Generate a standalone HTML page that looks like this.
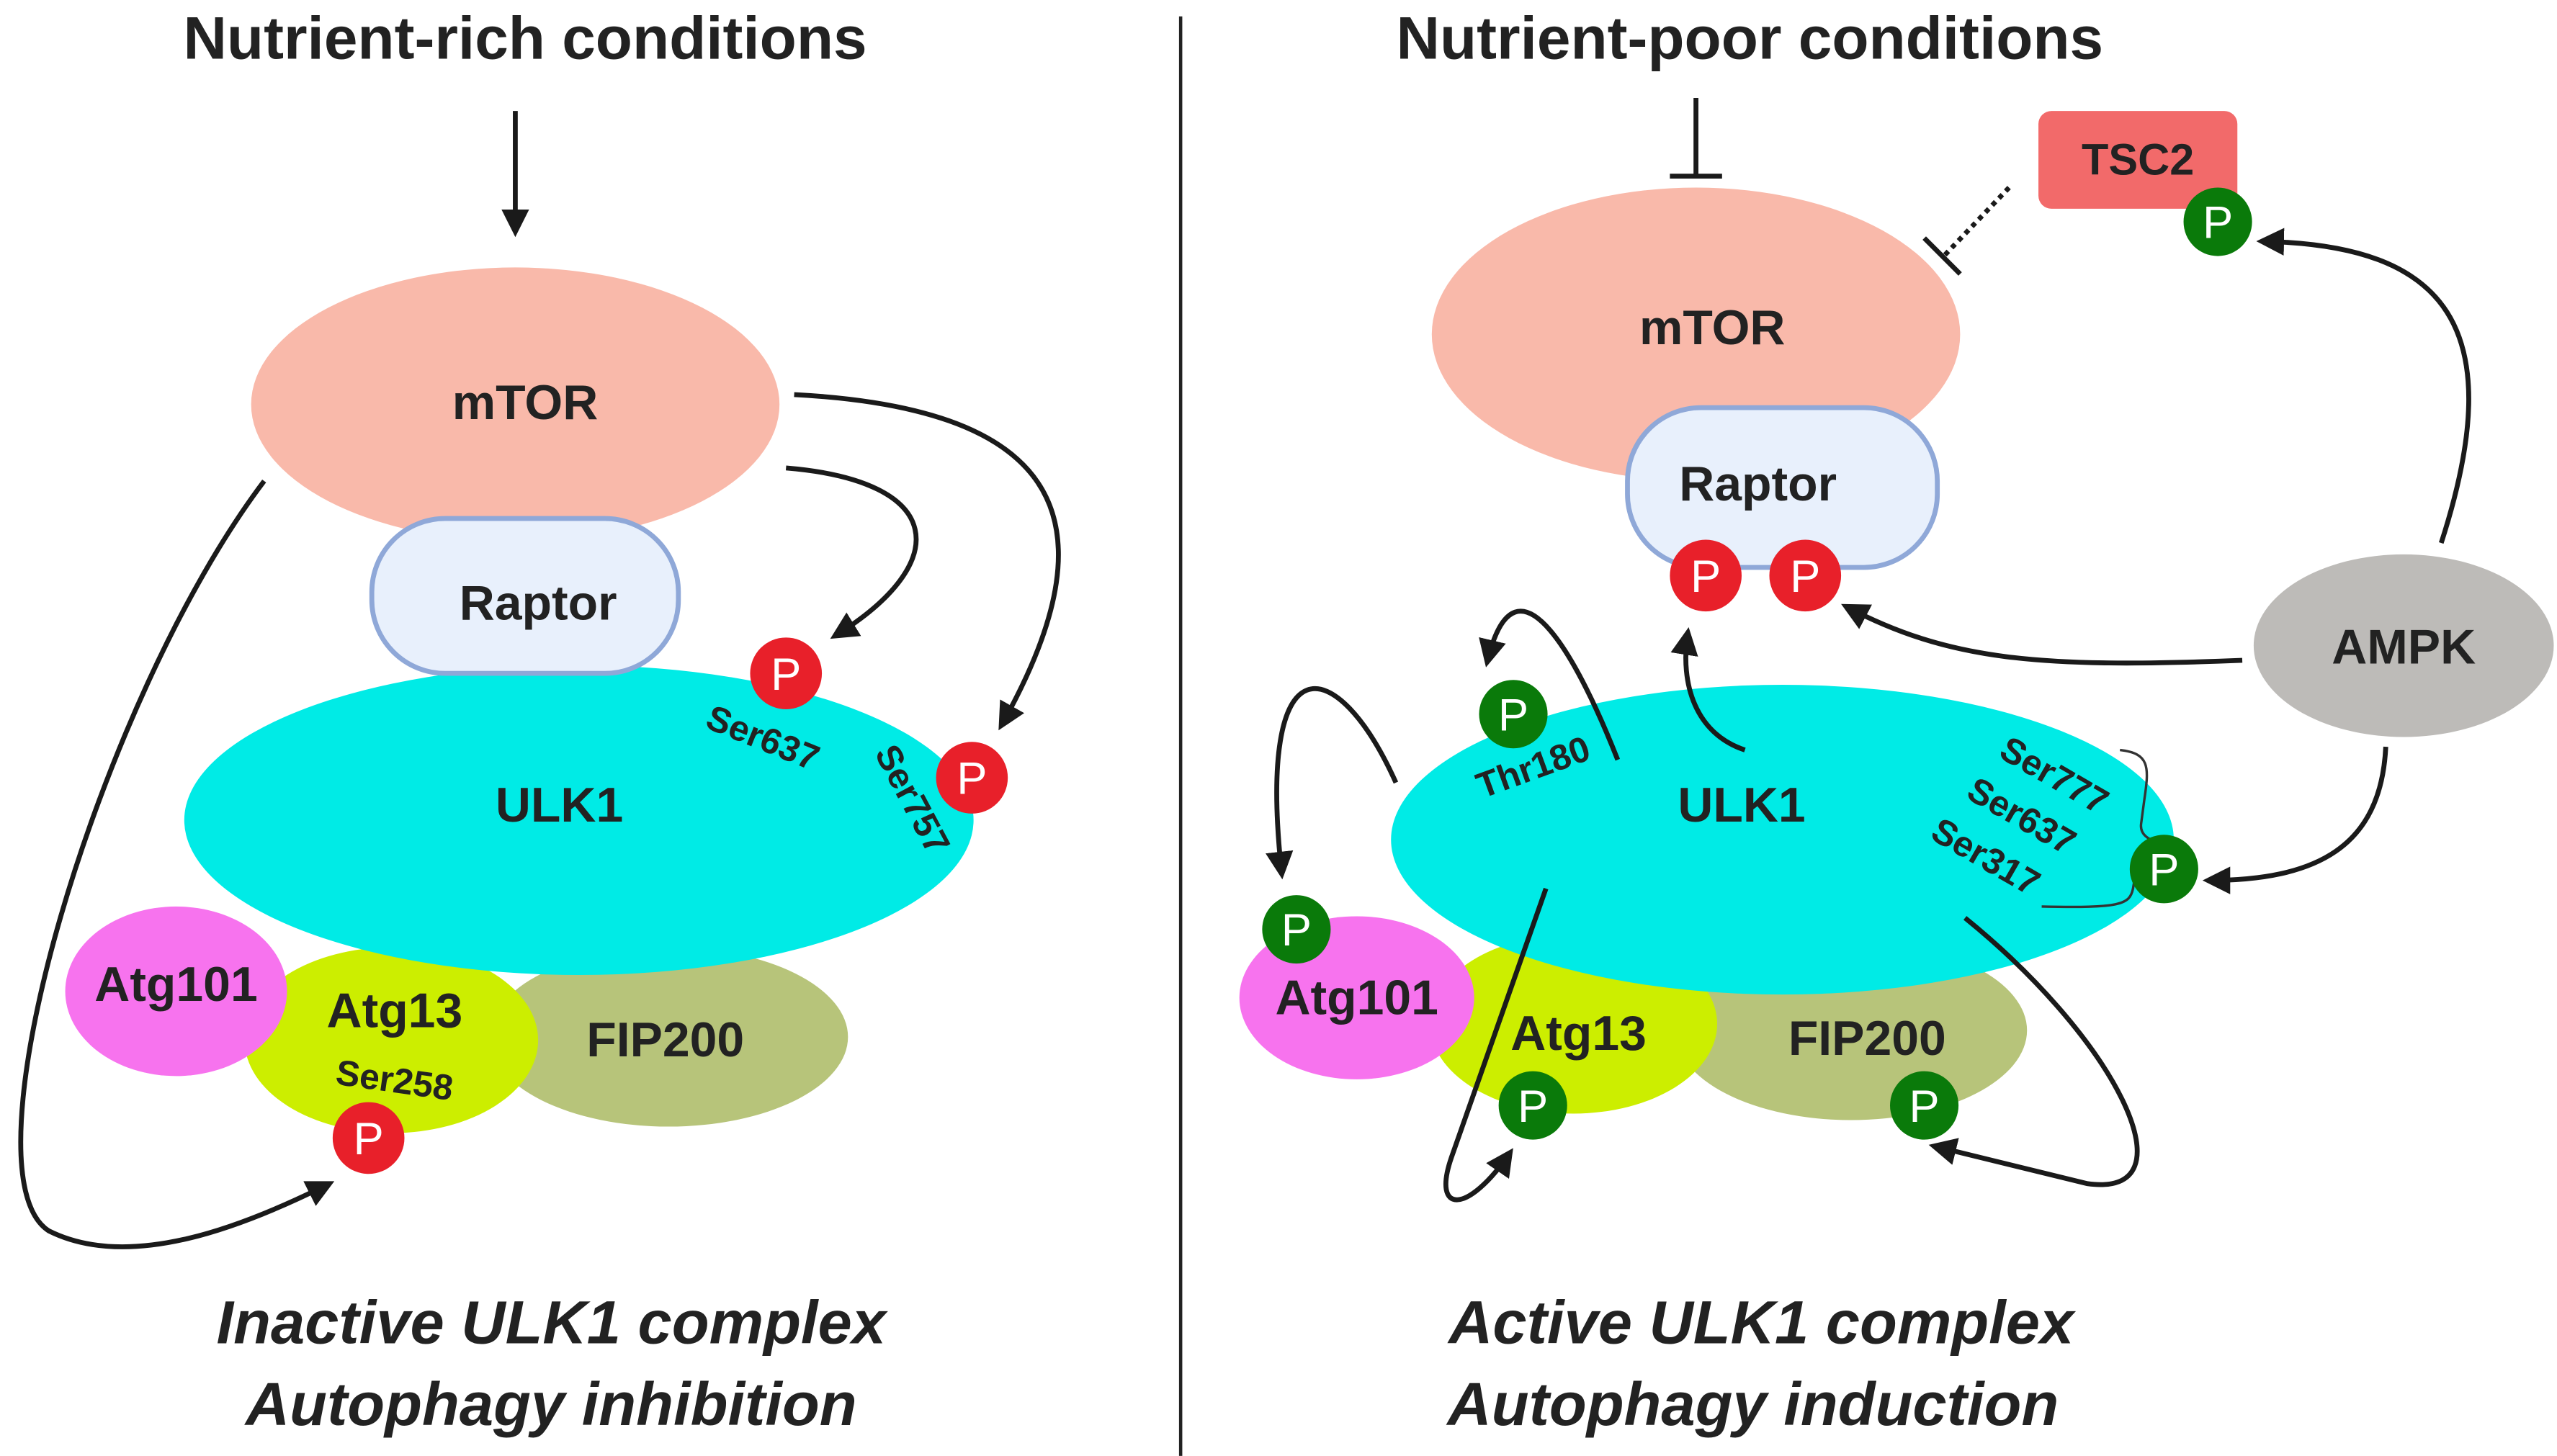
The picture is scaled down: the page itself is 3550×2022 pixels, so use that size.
<!DOCTYPE html>
<html><head><meta charset="utf-8"><style>
html,body{margin:0;padding:0;background:#fff;}
svg{display:block;}
text{font-family:"Liberation Sans",sans-serif;font-weight:bold;fill:#222;}
</style></head><body>
<svg width="3550" height="2022" viewBox="0 0 1568 893" xmlns="http://www.w3.org/2000/svg">
<defs>
<marker id="ah" viewBox="0 0 10 10" refX="8" refY="5" markerWidth="17" markerHeight="17" orient="auto" markerUnits="userSpaceOnUse">
<path d="M0,0 L10,5 L0,10 z" fill="#1a1a1a"/>
</marker>
</defs>
<rect width="1568" height="893" fill="#fff"/>

<!-- LEFT -->
<text x="322" y="36" font-size="37" text-anchor="middle">Nutrient-rich conditions</text>
<line x1="316" y1="68" x2="316" y2="142" stroke="#1a1a1a" stroke-width="3" marker-end="url(#ah)"/>

<ellipse cx="410" cy="636" rx="110" ry="55" fill="#b7c47a"/>
<ellipse cx="240" cy="638" rx="90" ry="57" fill="#ccee00"/>
<ellipse cx="108" cy="608" rx="68" ry="52" fill="#f773ee"/>
<ellipse cx="316" cy="248" rx="162" ry="84" fill="#f9b9aa"/>
<ellipse cx="355" cy="503" rx="242" ry="95" fill="#00ebe6"/>
<rect x="228" y="318" width="188" height="95" rx="45" fill="#e8f0fc" stroke="#8fa8d8" stroke-width="3"/>

<text x="322" y="257" font-size="30" text-anchor="middle">mTOR</text>
<text x="330" y="380" font-size="30" text-anchor="middle">Raptor</text>
<text x="343" y="504" font-size="30" text-anchor="middle">ULK1</text>
<text x="408" y="648" font-size="30" text-anchor="middle">FIP200</text>
<text x="242" y="630" font-size="30" text-anchor="middle">Atg13</text>
<text x="108" y="614" font-size="30" text-anchor="middle">Atg101</text>
<text x="242" y="670" font-size="22" text-anchor="middle" transform="rotate(8 242 662)">Ser258</text>
<text x="468" y="460" font-size="22" text-anchor="middle" transform="rotate(22 468 452)">Ser637</text>
<text x="560" y="498" font-size="22" text-anchor="middle" transform="rotate(62 560 490)">Ser757</text>

<path d="M482,287 C580,295 585,345 512,390" fill="none" stroke="#1a1a1a" stroke-width="3" marker-end="url(#ah)"/>
<path d="M487,242 C640,250 690,310 614,445" fill="none" stroke="#1a1a1a" stroke-width="3" marker-end="url(#ah)"/>
<path d="M162,295 C60,430 -25,720 30,755 C80,780 150,752 202,726" fill="none" stroke="#1a1a1a" stroke-width="3" marker-end="url(#ah)"/>

<g font-size="28">
<circle cx="482" cy="413" r="22" fill="#e8202a"/><text x="482" y="423" text-anchor="middle" style="fill:#fff;font-weight:normal">P</text>
<circle cx="596" cy="477" r="22" fill="#e8202a"/><text x="596" y="487" text-anchor="middle" style="fill:#fff;font-weight:normal">P</text>
<circle cx="226" cy="698" r="22" fill="#e8202a"/><text x="226" y="708" text-anchor="middle" style="fill:#fff;font-weight:normal">P</text>
</g>

<text x="338" y="824" font-size="37.5" font-style="italic" text-anchor="middle">Inactive ULK1 complex</text>
<text x="338" y="874" font-size="37.5" font-style="italic" text-anchor="middle">Autophagy inhibition</text>

<line x1="724" y1="10" x2="724" y2="893" stroke="#222" stroke-width="2"/>

<!-- RIGHT -->
<text x="1073" y="36" font-size="37" text-anchor="middle">Nutrient-poor conditions</text>
<line x1="1040" y1="60" x2="1040" y2="108" stroke="#1a1a1a" stroke-width="3"/>
<line x1="1024" y1="108" x2="1056" y2="108" stroke="#1a1a1a" stroke-width="3"/>

<ellipse cx="1135" cy="632" rx="108" ry="55" fill="#b7c47a"/>
<ellipse cx="965" cy="628" rx="88" ry="55" fill="#ccee00"/>
<ellipse cx="832" cy="612" rx="72" ry="50" fill="#f773ee"/>
<ellipse cx="1040" cy="205" rx="162" ry="90" fill="#f9b9aa"/>
<ellipse cx="1093" cy="515" rx="240" ry="95" fill="#00ebe6"/>
<rect x="998" y="250" width="190" height="98" rx="45" fill="#e8f0fc" stroke="#8fa8d8" stroke-width="3"/>
<rect x="1250" y="68" width="122" height="60" rx="8" fill="#f26a6a"/>
<ellipse cx="1474" cy="396" rx="92" ry="56" fill="#bdbbb8"/>

<text x="1050" y="211" font-size="30" text-anchor="middle">mTOR</text>
<text x="1078" y="307" font-size="30" text-anchor="middle">Raptor</text>
<text x="1068" y="504" font-size="30" text-anchor="middle">ULK1</text>
<text x="1145" y="647" font-size="30" text-anchor="middle">FIP200</text>
<text x="968" y="644" font-size="30" text-anchor="middle">Atg13</text>
<text x="832" y="622" font-size="30" text-anchor="middle">Atg101</text>
<text x="1311" y="107" font-size="27" text-anchor="middle">TSC2</text>
<text x="1474" y="407" font-size="30" text-anchor="middle">AMPK</text>
<text x="940" y="478" font-size="22" text-anchor="middle" transform="rotate(-20 940 470)">Thr180</text>
<text x="1260" y="483" font-size="22" text-anchor="middle" transform="rotate(30 1260 475)">Ser777</text>
<text x="1240" y="508" font-size="22" text-anchor="middle" transform="rotate(30 1240 500)">Ser637</text>
<text x="1218" y="533" font-size="22" text-anchor="middle" transform="rotate(30 1218 525)">Ser317</text>
<path d="M1300,460 C1318,462 1318,470 1315,490 L1313,505 C1312,512 1318,515 1322,516 C1318,517 1312,520 1311,527 L1308,545 C1306,555 1300,557 1252,556" fill="none" stroke="#333" stroke-width="1.5"/>

<line x1="1232" y1="115" x2="1192" y2="157" stroke="#1a1a1a" stroke-width="3" stroke-dasharray="3,3"/>
<line x1="1180" y1="146" x2="1202" y2="168" stroke="#1a1a1a" stroke-width="3"/>

<path d="M1497,333 C1540,200 1500,150 1387,148" fill="none" stroke="#1a1a1a" stroke-width="3" marker-end="url(#ah)"/>
<path d="M1375,405 C1250,410 1195,405 1132,372" fill="none" stroke="#1a1a1a" stroke-width="3" marker-end="url(#ah)"/>
<path d="M1463,458 C1460,520 1420,540 1354,540" fill="none" stroke="#1a1a1a" stroke-width="3" marker-end="url(#ah)"/>
<path d="M1070,460 C1040,450 1030,420 1035,388" fill="none" stroke="#1a1a1a" stroke-width="3" marker-end="url(#ah)"/>
<path d="M992,466 C970,410 930,330 912,406" fill="none" stroke="#1a1a1a" stroke-width="3" marker-end="url(#ah)"/>
<path d="M856,480 C820,400 770,390 786,536" fill="none" stroke="#1a1a1a" stroke-width="3" marker-end="url(#ah)"/>
<path d="M948,545 L890,710 C878,745 900,745 926,707" fill="none" stroke="#1a1a1a" stroke-width="3" marker-end="url(#ah)"/>
<path d="M1205,563 C1300,640 1345,735 1280,726 L1186,703" fill="none" stroke="#1a1a1a" stroke-width="3" marker-end="url(#ah)"/>

<g font-size="28">
<circle cx="1046" cy="353" r="22" fill="#e8202a"/><text x="1046" y="363" text-anchor="middle" style="fill:#fff;font-weight:normal">P</text>
<circle cx="1107" cy="353" r="22" fill="#e8202a"/><text x="1107" y="363" text-anchor="middle" style="fill:#fff;font-weight:normal">P</text>
<circle cx="1360" cy="136" r="21" fill="#0a7a0a"/><text x="1360" y="146" text-anchor="middle" style="fill:#fff;font-weight:normal">P</text>
<circle cx="928" cy="438" r="21" fill="#0a7a0a"/><text x="928" y="448" text-anchor="middle" style="fill:#fff;font-weight:normal">P</text>
<circle cx="795" cy="570" r="21" fill="#0a7a0a"/><text x="795" y="580" text-anchor="middle" style="fill:#fff;font-weight:normal">P</text>
<circle cx="1327" cy="533" r="21" fill="#0a7a0a"/><text x="1327" y="543" text-anchor="middle" style="fill:#fff;font-weight:normal">P</text>
<circle cx="940" cy="678" r="21" fill="#0a7a0a"/><text x="940" y="688" text-anchor="middle" style="fill:#fff;font-weight:normal">P</text>
<circle cx="1180" cy="678" r="21" fill="#0a7a0a"/><text x="1180" y="688" text-anchor="middle" style="fill:#fff;font-weight:normal">P</text>
</g>

<text x="1080" y="824" font-size="37.5" font-style="italic" text-anchor="middle">Active ULK1 complex</text>
<text x="1075" y="874" font-size="37.5" font-style="italic" text-anchor="middle">Autophagy induction</text>
</svg>
</body></html>
